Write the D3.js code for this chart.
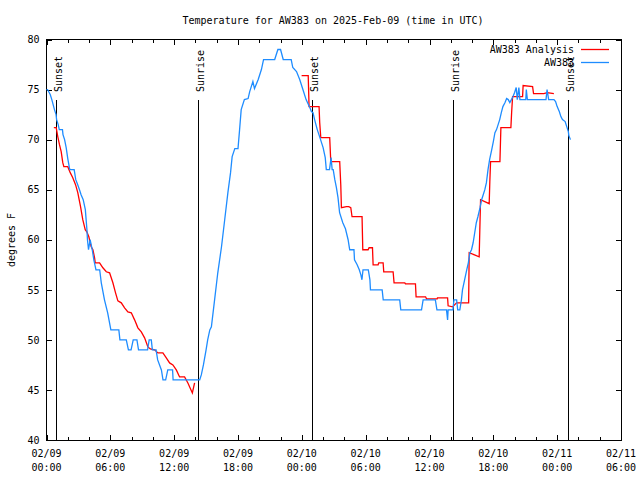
<!DOCTYPE html>
<html>
<head>
<meta charset="utf-8">
<script src="https://cdn.jsdelivr.net/npm/d3@7"></script>
<style>
  html, body { margin: 0; padding: 0; background: #fff; }
  svg { display: block; }
  text { font-family: "DejaVu Sans Mono", "Liberation Mono", monospace; font-size: 10px; fill: #000; }
</style>
</head>
<body>
<svg id="chart" width="640" height="480"></svg>
<script>
// ---------------- DATA ----------------
const titleText = "Temperature for AW383 on 2025-Feb-09 (time in UTC)";
const yLabel = "degrees F";
const seriesNames = ["AW383 Analysis", "AW383"];
const yTicks = [40, 45, 50, 55, 60, 65, 70, 75, 80];
// hours after 02/09 00:00 UTC
const xMajorHours = [0, 6, 12, 18, 24, 30, 36, 42, 48, 54];
const xTickDates = ["02/09", "02/09", "02/09", "02/09", "02/10", "02/10", "02/10", "02/10", "02/11", "02/11"];
const xTickTimes = ["00:00", "06:00", "12:00", "18:00", "00:00", "06:00", "12:00", "18:00", "00:00", "06:00"];
const sunHours = [0.92, 14.27, 24.98, 38.23, 49.04];
const sunLabels = ["Sunset", "Sunrise", "Sunset", "Sunrise", "Sunset"];

// Observations (AW383)
const obsHours = [0, 0.1, 0.35, 0.5, 0.75, 0.9, 0.95, 1.1, 1.2, 1.5, 1.55, 1.7, 1.85, 2.0, 2.15, 2.2, 2.6, 2.75, 2.9, 3.1, 3.25, 3.45, 3.65, 3.8, 3.85, 3.95, 4.1, 4.3, 4.45, 4.65, 5.0, 5.15, 5.45, 5.75, 6.05, 6.8, 6.9, 7.5, 7.7, 7.95, 8.15, 8.5, 8.65, 9.5, 9.65, 9.85, 9.95, 10.3, 10.45, 10.8, 10.95, 11.2, 11.4, 11.85, 11.9, 14.4,
  14.55, 14.75, 15.0, 15.15, 15.35, 15.5, 15.8, 16.1, 16.45, 16.75, 17.05, 17.3, 17.45, 17.7, 18.0, 18.15, 18.3, 18.6, 18.95, 19.1, 19.4, 19.55, 19.9, 20.2, 20.4, 21.45, 21.75, 22.0, 22.25, 23.0, 23.15, 23.5, 23.8, 24.1, 24.4, 24.75, 24.9, 25.05, 25.2,
  25.45, 25.7, 26.0, 26.2, 26.3, 26.6, 26.75, 26.85, 26.95, 27.1, 27.25, 27.4, 27.55, 27.85, 28.1, 28.35, 28.5, 28.9, 28.95, 29.2, 29.4, 29.55, 29.65, 29.75, 29.9, 30.25, 30.4, 30.45, 31.55, 31.65, 33.2, 33.3, 35.25, 35.4, 36.55, 36.7, 37.6, 37.7, 37.75, 38.2, 38.3, 38.55, 38.65, 38.85,
  39.0, 39.1, 39.3, 39.5, 39.65, 39.8, 39.95, 40.1, 40.25, 40.4, 40.55, 40.75, 40.9, 41.05, 41.2, 41.35, 41.5, 41.65, 41.85, 42.0, 42.15, 42.3, 42.6, 42.75, 42.9, 43.1, 43.25, 43.4, 43.55, 43.7, 43.85, 44.0, 44.15, 44.25, 44.4, 44.5, 45.05, 45.1, 45.2, 46.95, 47.05, 47.2, 47.7, 47.85, 48.0, 48.2, 48.35, 48.5, 48.75, 48.9, 49.05, 49.1, 49.25];
const obsTemps = [75, 75, 74.5, 74, 73, 72.5, 72, 71.5, 71, 71, 70.5, 70, 69.2, 68.1, 67.2, 67, 67, 66, 65.6, 65, 64.5, 64, 63, 61, 60, 59, 60, 59, 58, 57, 57, 55.7, 54, 52.7, 51, 51, 50, 50, 49, 49, 50, 50, 49, 49, 50, 50, 49, 49, 48, 47, 46, 46, 47, 47, 46, 46,
  46.5, 47.5, 49, 50, 51, 51.3, 54, 56.7, 59.3, 62, 64.7, 66.7, 68.3, 69.1, 69.1, 71, 73, 74, 74.1, 74.8, 75.8, 75.1, 76, 77, 78, 78, 79, 79, 78, 78, 77.2, 76.8, 76, 75, 74, 73.2, 72.8, 72.7, 72,
  71, 70.2, 69.2, 68.2, 67, 67, 68.2, 67, 67, 66, 65.2, 64.2, 62.7, 61.7, 61.1, 60, 59, 59, 58, 57.5, 57, 56.5, 56, 57, 57, 57, 56, 55, 55, 54, 54, 53, 53, 54, 54, 53, 53, 52, 53, 53, 54, 54, 53, 53,
  54, 55, 56, 57, 57.7, 58.7, 59, 59.7, 60.7, 61.7, 62.3, 63.2, 64, 64.5, 65, 65.7, 67, 68, 69, 69.8, 70.7, 71, 72, 72.7, 73.3, 73.7, 74.1, 74, 73.7, 74, 74.3, 74.7, 75.2, 74, 75.2, 74, 74, 75, 74, 74, 75, 74, 74, 73.8, 73.3, 72.8, 72.3, 72, 71.8, 71.3, 70.8, 70.4, 70];

// Analysis (AW383 Analysis); null marks a gap
const anaHours = [0.69, 0.91, 1.06, 1.22, 1.38, 1.53, 1.63, 2.0, 2.23, 2.47, 2.73, 2.94, 3.2, 3.41, 3.64, 3.79, 3.98, 4.2, 4.36, 4.52, 4.58, 4.99, 5.3, 5.62, 5.93, 6.24, 6.49, 6.71, 7.03, 7.34, 7.65, 7.97, 8.28, 8.59, 8.91, 9.22, 9.53, 9.76, 10.16, 10.47, 10.94, 11.26, 11.57, 11.88, 12.2, 12.51, 12.98, 13.29, 13.71, 13.92,
  null,
  23.98, 24.6, 24.68, 25.62, 25.68, 25.78, 26.62, 26.72, 27.56, 27.66, 27.72, 28.19, 28.41, 28.6, 28.72, 29.66, 29.73, 30.23, 30.32, 30.64, 30.7, 31.17, 31.23, 31.64, 31.7, 32.58, 32.67, 33.68, 33.74, 34.68, 34.74, 35.63, 35.72, 36.72, 36.75, 37.7, 37.75, 38.17, 38.54, 39.68, 39.73, 40.67, 40.73, 40.8, 41.61, 41.67, 41.74, 42.62, 42.71, 43.65, 43.72, 43.81, 44.75, 44.8, 45.69, 45.78, 46.75, 47.06, 47.69];
const anaTemps = [71.2, 71.2, 70.3, 69.5, 68.8, 67.7, 67.3, 67.3, 66.7, 66.2, 65.5, 64.7, 63.3, 62, 61, 60.8, 60.3, 59.3, 59, 58.2, 57.7, 57.7, 57.2, 56.8, 56.7, 55.7, 54.7, 53.9, 53.7, 53.2, 52.8, 52.7, 52, 51.2, 50.8, 50.2, 49.3, 49.1, 49, 48.7, 48.7, 48.2, 47.7, 47.5, 47, 46.3, 46.3, 45.7, 44.7, 45.7,
  null,
  76.4, 76.4, 73.3, 73.3, 71.7, 70.2, 70.2, 67.8, 67.8, 65.5, 63.2, 63.3, 63.3, 63.2, 62.3, 62.3, 59, 59, 59.2, 59.2, 57.5, 57.5, 57.7, 57.7, 56.8, 56.8, 55.7, 55.7, 55.6, 55.6, 54.3, 54.3, 54.1, 54.1, 54.2, 54.2, 53.4, 53.3, 53.7, 53.7, 58.7, 58.3, 61, 64, 63.6, 65.8, 67.8, 67.8, 71.2, 71.2, 72.7, 74.3, 74.3, 75.4, 75.3, 74.6, 74.6, 74.7, 74.6];

// ---------------- CHART ----------------
const svg = d3.select("#chart");
const L = 46.5, R = 621, T = 39.5, B = 440;
const x = d3.scaleLinear().domain([0, 54]).range([L, R]);
const y = d3.scaleLinear().domain([40, 80]).range([B, T]);

const colors = ["#ff0000", "#1e8cff"];

// title
svg.append("text").attr("x", 333).attr("y", 20).attr("dy", "0.35em")
  .attr("text-anchor", "middle").text(titleText);

// y label
svg.append("text").attr("transform", `translate(11,240) rotate(-90)`)
  .attr("dy", "0.35em").attr("text-anchor", "middle").text(yLabel);

const minorHours = d3.range(0, 55, 2).filter(h => h % 6 !== 0);

// axes (ticks inward)
const gB = svg.append("g").attr("transform", `translate(0,${B})`);
gB.call(d3.axisBottom(x).tickValues(minorHours).tickSize(-3).tickFormat(""));
const gB2 = svg.append("g").attr("transform", `translate(0,${B})`);
gB2.call(d3.axisBottom(x).tickValues(xMajorHours).tickSize(-5).tickPadding(9).tickFormat(""));
const gT = svg.append("g").attr("transform", `translate(0,${T})`);
gT.call(d3.axisTop(x).tickValues(minorHours).tickSize(-3).tickFormat(""));
const gT2 = svg.append("g").attr("transform", `translate(0,${T})`);
gT2.call(d3.axisTop(x).tickValues(xMajorHours).tickSize(-5).tickFormat(""));
const gL = svg.append("g").attr("transform", `translate(${L},0)`);
gL.call(d3.axisLeft(y).tickValues(yTicks).tickSize(-5).tickPadding(8));
const gR = svg.append("g").attr("transform", `translate(${R},0)`);
gR.call(d3.axisRight(y).tickValues(yTicks).tickSize(-5).tickFormat(""));
svg.selectAll(".domain").remove();
svg.selectAll(".tick line").attr("stroke", "#000").attr("shape-rendering", "crispEdges");
gL.selectAll(".tick text").attr("font-family", null).attr("font-size", null).attr("x", -7);

// x labels (two lines)
xMajorHours.forEach((h, i) => {
  const t = svg.append("text").attr("x", x(h)).attr("text-anchor", "middle");
  t.append("tspan").attr("x", x(h)).attr("y", 453).attr("dy", "0.35em").text(xTickDates[i]);
  t.append("tspan").attr("x", x(h)).attr("y", 467).attr("dy", "0.35em").text(xTickTimes[i]);
});

// border
svg.append("rect").attr("x", L).attr("y", T).attr("width", R - L).attr("height", B - T)
  .attr("fill", "none").attr("stroke", "#000").attr("shape-rendering", "crispEdges");

// sun lines
sunHours.forEach((h, i) => {
  const px = Math.round(x(h)) + 0.5;
  svg.append("line").attr("x1", px).attr("x2", px).attr("y1", 100).attr("y2", B)
    .attr("stroke", "#000").attr("shape-rendering", "crispEdges");
  svg.append("text").attr("transform", `translate(${px + 1.5},92) rotate(-90)`)
    .attr("dy", "0.35em").attr("text-anchor", "start").text(sunLabels[i]);
});

// series
const mk = (hs, ts) => hs.map((h, i) => ({h, t: ts[i]}));
const line = d3.line().defined(d => d.h !== null && d.t !== null).x(d => x(d.h)).y(d => y(d.t));
const plot = svg.append("g");
plot.append("path").datum(mk(anaHours, anaTemps)).attr("d", line)
  .attr("fill", "none").attr("stroke", colors[0]).attr("stroke-width", 1.3);
plot.append("path").datum(mk(obsHours, obsTemps)).attr("d", line)
  .attr("fill", "none").attr("stroke", colors[1]).attr("stroke-width", 1.3);

// legend
const legY = [49.5, 62.5];
seriesNames.forEach((n, i) => {
  svg.append("text").attr("x", 574).attr("y", legY[i]).attr("dy", "0.35em")
    .attr("text-anchor", "end").text(n);
  svg.append("line").attr("x1", 581).attr("x2", 609).attr("y1", legY[i]).attr("y2", legY[i])
    .attr("stroke", colors[i]).attr("stroke-width", 1.3);
});
</script>
</body>
</html>
